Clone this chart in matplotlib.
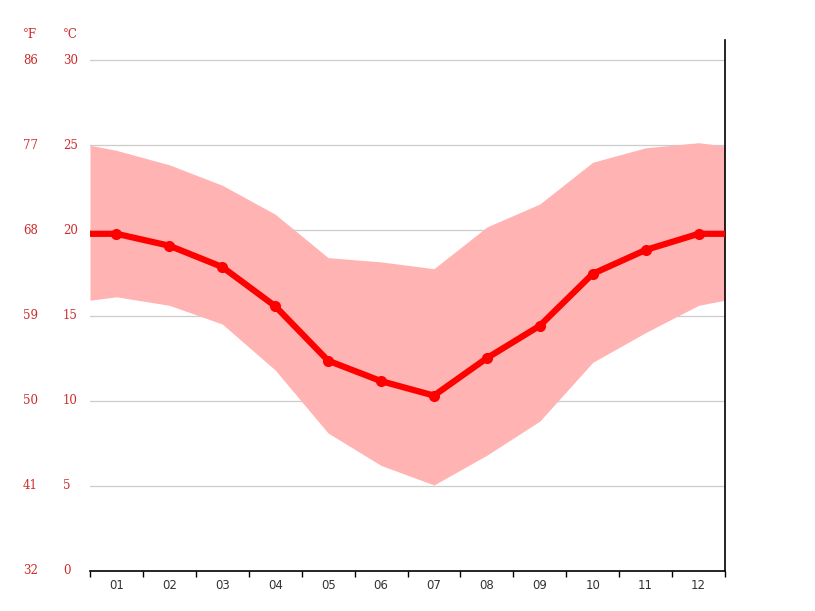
import matplotlib.pyplot as plt
import matplotlib.transforms as mtransforms

# monthly values (deg C); first/last entries are the chart edges
months = ["01", "02", "03", "04", "05", "06", "07", "08", "09", "10", "11", "12"]
x_pos = [0.5, 1, 2, 3, 4, 5, 6, 7, 8, 9, 10, 11, 12, 12.5]
t_mean = [19.8, 19.8, 19.1, 17.85, 15.55, 12.35, 11.15, 10.3, 12.5, 14.4, 17.45, 18.85, 19.8, 19.8]
t_max = [25.0, 24.7, 23.85, 22.65, 20.95, 18.4, 18.15, 17.75, 20.2, 21.55, 24.0, 24.85, 25.15, 24.95]
t_min = [15.9, 16.1, 15.6, 14.5, 11.8, 8.1, 6.2, 5.05, 6.8, 8.8, 12.25, 14.0, 15.6, 15.9]

c_ticks = [0, 5, 10, 15, 20, 25, 30]
f_ticks = [32, 41, 50, 59, 68, 77, 86]

label_red = "#cc2b2b"

fig = plt.figure(figsize=(8.15, 6.11), dpi=100)
W, H = 815, 611
ax = fig.add_axes([90 / W, (H - 571) / H, 635 / W, 531 / H])

ax.fill_between(x_pos, t_min, t_max, color="#ffb3b3", linewidth=0, zorder=2)
ax.plot(x_pos, t_mean, color="#ff0000", linewidth=4.5, solid_capstyle="butt", zorder=3)
ax.plot(x_pos[1:-1], t_mean[1:-1], "o", color="#ff0000", markersize=7, zorder=4)

ax.set_xlim(0.5, 12.5)
ax.set_ylim(0, 31.18)

for c in c_ticks[1:]:
    ax.axhline(c, color="#cccccc", linewidth=0.9, zorder=1)

ax.set_xticks(range(1, 13))
ax.set_xticklabels(months, fontsize=8.5, color="#333333", family="DejaVu Sans")
ax.tick_params(axis="x", which="major", length=0, pad=6)
ax.set_xticks([m + 0.5 for m in range(13)], minor=True)
ax.tick_params(axis="x", which="minor", length=4, width=1, color="black", direction="out")
ax.set_yticks([])

for s in ["top", "left"]:
    ax.spines[s].set_visible(False)
for s in ["bottom", "right"]:
    ax.spines[s].set_color("black")
    ax.spines[s].set_linewidth(1.2)

# twin temperature scales on the left, in red
trans = mtransforms.blended_transform_factory(ax.transAxes, ax.transData)
x_c = (63 - 90) / 635
x_f = (23 - 90) / 635
for c, f in zip(c_ticks, f_ticks):
    ax.text(x_c, c, str(c), transform=trans, ha="left", va="center",
            fontsize=8.5, color=label_red, family="DejaVu Serif")
    ax.text(x_f, c, str(f), transform=trans, ha="left", va="center",
            fontsize=8.5, color=label_red, family="DejaVu Serif")

fig.text(63 / W, 1 - 35 / H, "°C", ha="left", va="center", fontsize=8.5,
         color=label_red, family="DejaVu Serif")
fig.text(23 / W, 1 - 35 / H, "°F", ha="left", va="center", fontsize=8.5,
         color=label_red, family="DejaVu Serif")

fig.savefig("out.png", dpi=100)
